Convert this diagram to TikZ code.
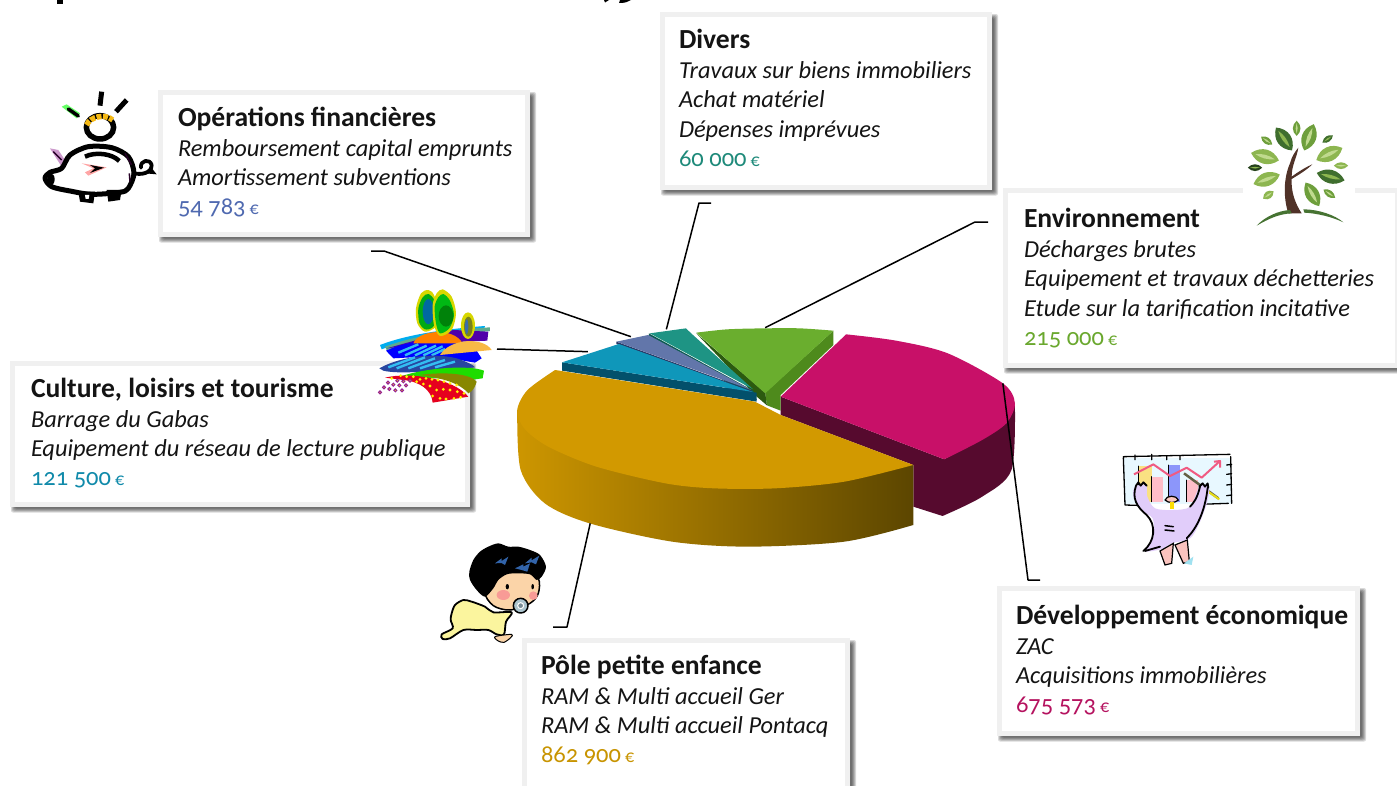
\documentclass[tikz,border=0pt]{standalone}
\usepackage{fontspec}
\setmainfont{Carlito}
\newfontfamily\amtfont[Numbers=OldStyle]{Carlito}
\definecolor{cOp}{HTML}{4F69B0}
\definecolor{cDiv}{HTML}{1E8A7A}
\definecolor{cEnv}{HTML}{6AA82E}
\definecolor{cCul}{HTML}{108AAA}
\definecolor{cPol}{HTML}{C89400}
\definecolor{cDev}{HTML}{B5125F}
\definecolor{band}{HTML}{F0F0F0}
\definecolor{goldA}{RGB}{205,150,0}
\definecolor{goldB}{RGB}{165,120,5}
\definecolor{goldC}{RGB}{92,70,0}
\tikzset{
  cardbox/.style={draw=band,fill=white,line width=5pt,inner sep=0pt,outer sep=0pt,anchor=north west},
  cardtext/.style={inner sep=0pt,outer sep=0pt,anchor=north west,align=left,font=\fontsize{24.4}{29.5}\selectfont,text=black!92},
  leader/.style={draw=black,line width=1.5pt,line join=round},
  shadowlayer/.style={fill=black,opacity=0.15,rounded corners=2pt},
  ink/.style={draw=black,line cap=round,line join=round},
}
\newcommand{\ttl}[1]{\strut{\fontsize{27.6}{29.5}\selectfont\bfseries #1}}
\newcommand{\amount}[2]{{\color{#1}\amtfont\fontsize{24.5}{29.5}\selectfont #2\,{\fontsize{18}{20}\selectfont €}}}
\newcommand{\card}[8]{%
  \foreach \d in {4,3,2,1,0}{%
    \path[shadowlayer] (#2+5-\d,#3+6-\d) rectangle (#4+2+\d,#5+1.5+\d);}
  \node[cardbox,minimum width=#4-#2-5,minimum height=#5-#3-5] (#1) at (#2+2.5,#3+2.5) {};
  \node[cardtext] (#1t) at (#6,#7-20.65) {#8};
}
\newcommand{\leafat}[7]{%
  \fill[#6,shift={(#1,#2)},rotate=#3] ({-#4*0.6},0) .. controls ({-#4*0.25},{-#5*0.85}) and ({#4*0.25},{-#5*0.85}) .. ({#4*0.6},0) .. controls ({#4*0.25},{#5*0.85}) and ({-#4*0.25},{#5*0.85}) .. ({-#4*0.6},0) -- cycle;
  \fill[#7,shift={(#1,#2)},rotate=#3] ({-#4*0.42},0) .. controls ({-#4*0.15},{-#5*0.22}) and ({#4*0.15},{-#5*0.22}) .. ({#4*0.42},0) .. controls ({#4*0.15},{#5*0.22}) and ({-#4*0.15},{#5*0.22}) .. ({-#4*0.42},0) -- cycle;
}
\begin{document}
\begin{tikzpicture}[x=1pt,y=-1pt]
\useasboundingbox (0,0) rectangle (1397,785);
\fill[white] (0,0) rectangle (1397,785);
% clipped title remnants
\fill[black] (57,0) rectangle (62.5,4);
\fill[black] (604,0) -- (609,0) -- (605,2.5) -- cycle;
\fill[black] (619,3) .. controls (625,3) and (628,2) .. (631,0) -- (620,0) -- cycle;

% cards
\card{op}{158}{90}{530}{237}{178}{126}{\ttl{Opérations financières}\\[0.5pt]\itshape Remboursement capital emprunts\\\itshape Amortissement subventions\\[-0.5pt]\amount{cOp}{54 783}}
\card{div}{660}{12}{992}{190}{679}{48}{\ttl{Divers}\\[0.5pt]\itshape Travaux sur biens immobiliers\\\itshape Achat matériel\\\itshape Dépenses imprévues\\[-0.5pt]\amount{cDiv}{60 000}}
\card{env}{1003}{188}{1400}{368}{1024}{227}{\ttl{Environnement}\\[0.5pt]\itshape Décharges brutes\\\itshape Equipement et travaux déchetteries\\\itshape Etude sur la tarification incitative\\[-0.5pt]\amount{cEnv}{215 000}}
\card{cul}{10}{361}{470}{507}{31}{397}{\ttl{Culture, loisirs et tourisme}\\[0.5pt]\itshape Barrage du Gabas\\\itshape Equipement du réseau de lecture publique\\[-0.5pt]\amount{cCul}{121 500}}
\card{pol}{522}{638}{850}{792}{541}{674}{\ttl{Pôle petite enfance}\\[0.5pt]\itshape RAM  \& Multi accueil Ger\\\itshape RAM  \& Multi accueil Pontacq\\[-0.5pt]\amount{cPol}{862 900}}
\card{dev}{997}{586}{1360}{736}{1016}{624}{\ttl{Développement économique}\\[0.5pt]\itshape ZAC\\\itshape Acquisitions immobilières\\[-0.5pt]\amount{cDev}{675 573}}

% pie (coordinates of a 2.904 x 3 view)
\begin{scope}[shift={(500,300)},xscale=0.3444,yscale=0.3333]
  % magenta
  \fill[fill={rgb,255:red,86;green,10;blue,46}] (815,290) -- (1290,478) -- (1470,370) -- (1495,310)
     -- plot[smooth] coordinates {(1495,310)(1485,510)(1400,590)(1285,648)} -- (1200,620) -- (1200,495) -- (815,345) -- cycle;
  \fill[fill={rgb,255:red,200;green,16;blue,104}] (1005,103) -- (815,290) -- (1290,478)
     -- plot[smooth] coordinates {(1290,478)(1400,420)(1470,370)(1495,310)(1460,250)(1300,160)(1150,122)(1005,103)} -- cycle;
  % green
  \fill[fill={rgb,255:red,78;green,138;blue,28}] (770,278) -- (968,92) -- (968,135) -- (815,285) -- (815,332) -- (775,316) -- cycle;
  \fill[fill={rgb,255:red,44;green,90;blue,16}] (570,100) -- (770,278) -- (775,316) -- (740,285) -- cycle;
  \fill[fill={rgb,255:red,106;green,174;blue,46}] (570,98) -- (770,280) -- (968,92) -- plot[smooth] coordinates {(968,92)(870,85)(770,85)(660,88)(570,98)} -- cycle;
  % teal
  \fill[fill={rgb,255:red,13;green,90;blue,80}] (432,100) -- (735,272) -- (745,300) -- (432,108) -- cycle;
  \fill[fill={rgb,255:red,30;green,148;blue,132}] (435,100) -- (540,85) -- (555,100) -- (735,268) -- cycle;
  % blue-grey
  \fill[fill={rgb,255:red,40;green,55;blue,100}] (338,125) -- (730,272) -- (745,300) -- (338,132) -- cycle;
  \fill[fill={rgb,255:red,98;green,118;blue,170}] (338,125) -- (430,105) -- (730,270) -- cycle;
  % blue
  \fill[fill={rgb,255:red,3;green,80;blue,107}] (180,187) -- (180,212) -- (745,305) -- (745,278) -- cycle;
  \fill[fill={rgb,255:red,15;green,151;blue,186}] (180,187) -- (345,132) -- (735,276) -- cycle;
  % gold
  \shade[left color=goldA,middle color=goldB,right color=goldC]
    (50,330) -- plot[smooth] coordinates {(50,340)(60,510)(130,610)(260,670)(500,725)(720,740)(1000,725)(1200,675)} -- (1200,495) -- cycle;
  \fill[fill={rgb,255:red,210;green,153;blue,0}] (160,210) -- (740,305) -- (815,345) -- (1200,495)
     -- plot[smooth] coordinates {(1200,495)(1000,545)(800,565)(620,565)(480,550)(280,500)(140,440)(70,385)(50,330)(80,270)(160,210)} -- cycle;
  % leader ends on the pie
  \coordinate (pOp) at (380,110);
  \coordinate (pDiv) at (483,88);
  \coordinate (pEnv) at (770,83);
  \coordinate (pCul) at (255,155);
  \coordinate (pDev) at (1460,250);
  \coordinate (pPol) at (262,670);
\end{scope}

% leaders
\coordinate (eOp) at (384,251); \coordinate (fOp) at (371,251);
\coordinate (eDiv) at (699,203); \coordinate (fDiv) at (711,203);
\coordinate (eEnv) at (975,222); \coordinate (fEnv) at (988,222);
\coordinate (fCul) at (497,349);
\coordinate (eDev) at (1028,580); \coordinate (fDev) at (1040,580);
\coordinate (ePol) at (567,627); \coordinate (fPol) at (553,627);
\draw[leader] (fOp) -- (eOp) -- (pOp);
\draw[leader] (fDiv) -- (eDiv) -- (pDiv);
\draw[leader] (fEnv) -- (eEnv) -- (pEnv);
\draw[leader] (fCul) -- (pCul);
\draw[leader] (fDev) -- (eDev) -- (pDev);
\draw[leader] (fPol) -- (ePol) -- (pPol);

% piggy bank
\begin{scope}[shift={(30,85)},scale=0.3333]
  \draw[ink,line width=5pt,line cap=butt] (215,20) -- (210,62);
  \draw[ink,line width=5pt,line cap=butt] (290,45) -- (258,80);
  \fill[green!60!white] (95,65) -- (110,58) -- (150,85) -- (140,100) -- cycle;
  \draw[ink,line width=3.5pt] (115,72) -- (145,93);
  \draw[ink,line width=5.5pt] (210,127) ellipse (41 and 35);
  \draw[line width=5.5pt,draw={rgb,255:red,245;green,185;blue,20},dash pattern=on 5pt off 1.5pt] (170,120) .. controls (180,95) and (225,85) .. (248,105);
  \fill[violet!40!white] (60,190) -- (85,195) -- (105,225) -- (95,245) -- cycle;
  \fill[violet!40!white] (280,200) -- (312,235) -- (305,300) -- (290,295) -- cycle;
  \draw[ink,line width=5pt,fill=white] plot[smooth cycle] coordinates {(45,280)(60,262)(95,250)(120,210)(175,185)(245,188)(295,215)(312,265)(295,310)(270,322)(185,328)(120,318)(65,305)};
  \fill[black] (145,320) -- (195,320) -- (190,355) -- (150,350) -- cycle;
  \fill[black] (230,315) -- (275,315) -- (270,345) -- (235,350) -- cycle;
  \fill[white] (165,330) -- (178,330) -- (176,342) -- (167,342) -- cycle;
  \draw[ink,line width=3.5pt,fill=white] (63,283) ellipse (6 and 12);
  \draw[ink,line width=4.5pt,line cap=butt] (165,215) .. controls (195,200) and (245,205) .. (268,228);
  \draw[ink,line width=3.8pt] (310,265) .. controls (335,270) and (365,265) .. (365,240) .. controls (360,220) and (330,225) .. (333,248);
  \fill[black] (345,265) -- (380,268) -- (362,245) -- cycle;
  \fill[red!35!white] (155,235) -- (230,247) -- (175,272) -- (165,262) -- (190,250) -- cycle;
  \fill[black] (180,240) -- (222,248) -- (180,264) -- (195,250) -- cycle;
  \draw[black!70!violet,line width=1.5pt] (70,200) -- (95,225) (285,205) -- (305,240) (298,265) -- (300,290);
\end{scope}

% landscape
\begin{scope}[shift={(360,280)},scale=0.3333]
  \fill[cyan] (60,195) .. controls (150,160) and (280,145) .. (375,138) -- (372,148) .. controls (260,155) and (150,175) .. (65,208) -- cycle;
  \fill[fill={rgb,255:red,95;green,170;blue,140}] (75,200) .. controls (170,165) and (290,148) .. (390,142) -- (390,153) -- (280,165) -- (80,210) -- cycle;
  \fill[fill={rgb,255:red,80;green,0;blue,170}] (80,205) -- (280,150) -- (385,155) -- (382,182) -- (200,190) -- cycle;
  \fill[blue] (78,212) .. controls (170,170) and (280,175) .. (350,212) -- (365,235) -- (345,248) -- (230,228) -- (100,235) -- cycle;
  \draw[cyan!80!white,line width=2.4pt,line cap=butt] (115,218) -- (175,193) (135,226) -- (200,197) (165,226) -- (228,197) (190,226) -- (248,199) (215,226) -- (255,207);
  \fill[orange] (160,190) .. controls (175,150) and (280,140) .. (308,190) -- cycle;
  % trees
  \fill[fill={rgb,255:red,215;green,215;blue,0}] plot[smooth cycle] coordinates {(205,30)(222,45)(238,100)(228,140)(195,155)(172,130)(168,85)(183,40)};
  \fill[fill={rgb,255:red,0;green,170;blue,20}] plot[smooth cycle] coordinates {(205,42)(224,62)(232,110)(218,142)(195,148)(178,128)(175,85)(188,52)};
  \fill[fill={rgb,255:red,0;green,105;blue,160}] (205,95) ellipse (17 and 38);
  \fill[fill={rgb,255:red,215;green,215;blue,0}] plot[smooth cycle] coordinates {(248,28)(275,50)(288,100)(275,150)(240,168)(222,135)(218,75)(230,40)};
  \fill[fill={rgb,255:red,0;green,185;blue,20}] plot[smooth cycle] coordinates {(250,42)(270,62)(282,105)(268,145)(240,160)(228,130)(224,80)(235,52)};
  \fill[fill={rgb,255:red,0;green,130;blue,10}] (258,108) ellipse (22 and 32);
  \fill[fill={rgb,255:red,215;green,215;blue,0}] (324,137) ellipse (21 and 40);
  \fill[fill={rgb,255:red,120;green,130;blue,30}] (325,140) ellipse (13 and 30);
  \fill[fill={rgb,255:red,60;green,110;blue,170}] (320,140) ellipse (5 and 22);
  \fill[fill={rgb,255:red,248;green,185;blue,70}] (240,225) .. controls (270,175) and (370,170) .. (395,210) -- cycle;
  \fill[fill={rgb,255:red,40;green,70;blue,160}] (58,265) .. controls (110,235) and (210,215) .. (290,235) .. controls (320,245) and (340,255) .. (345,262) .. controls (250,270) and (120,285) .. (70,272) -- cycle;
  \draw[cyan!80!white,line width=2.4pt,line cap=butt] (85,262) -- (165,232) (110,265) -- (195,232) (145,265) -- (225,235) (180,265) -- (255,240) (225,262) -- (285,245);
  \fill[fill={rgb,255:red,30;green,220;blue,0}] (120,290) .. controls (200,262) and (330,255) .. (372,272) -- (368,295) -- (330,300) -- cycle;
  \fill[fill={rgb,255:red,135;green,135;blue,0}] (180,285) .. controls (250,275) and (330,280) .. (350,305) .. controls (345,325) and (335,335) .. (325,340) .. controls (300,310) and (250,295) .. (180,285) -- cycle;
  \fill[fill={rgb,255:red,230;green,0;blue,30}] (75,293) .. controls (150,275) and (280,295) .. (325,350) -- (218,368) .. controls (215,330) and (180,305) .. (130,300) -- cycle;
  \foreach \px/\py in {95/295,122/287,140/290,160/290,180/298,198/295,216/298,234/300,252/305,270/310,290/315,150/303,170/305,190/312,210/318,230/330,250/328,270/330,292/335,312/340,218/348,240/355,258/357,282/355,302/352}
    \fill[yellow] (\px,\py) circle (4.6);
  \foreach \px/\py in {60/337,72/322,88/327,106/331,126/331,84/308,100/314,118/316,138/316,112/302,130/304,150/302}
    \draw[draw={rgb,255:red,150;green,30;blue,150},line width=1pt,fill=yellow] (\px,\py) circle (4.5);
\end{scope}

% baby
\begin{scope}[shift={(430,535)},scale=0.3333]
  \definecolor{babyy}{HTML}{FBF59E}
  \definecolor{skin}{HTML}{FBD4A8}
  \filldraw[fill=babyy,ink,line width=1.8pt] plot[smooth cycle] coordinates {(65,235)(75,210)(100,195)(125,200)(165,215)(190,232)(245,232)(228,260)(222,298)(200,298)(175,285)(140,285)(100,285)(60,310)(38,312)(35,298)(68,280)(62,255)};
  \filldraw[fill=skin,ink,line width=1pt] plot[smooth cycle] coordinates {(195,305)(245,298)(242,308)(222,322)(205,318)};
  \filldraw[fill=skin,ink,line width=1.5pt] plot[smooth cycle] coordinates {(165,170)(210,115)(280,100)(325,130)(325,175)(300,205)(240,225)(190,212)};
  \fill[black] plot[smooth cycle] coordinates {(118,110)(130,75)(150,50)(175,35)(205,25)(235,35)(265,35)(300,45)(330,60)(348,95)(335,125)(320,135)(300,118)(260,115)(230,118)(205,135)(190,160)(165,185)(140,165)(120,135)};
  \fill[fill={rgb,255:red,50;green,100;blue,170}] (195,85) -- (215,70) -- (215,78) -- (235,65) -- (225,90) -- (215,84) -- cycle;
  \fill[fill={rgb,255:red,50;green,100;blue,170}] (285,85) -- (305,68) -- (305,76) -- (328,62) -- (318,88) -- (305,82) -- cycle;
  \fill[fill={rgb,255:red,50;green,100;blue,170}] (255,100) -- (280,88) -- (280,95) -- (300,85) -- (292,110) -- (275,105) -- cycle;
  \fill[fill={rgb,255:red,248;green,155;blue,150}] (220,180) ellipse (20 and 15);
  \fill[fill={rgb,255:red,248;green,155;blue,150}] (310,182) ellipse (13 and 13);
  \fill[black] (232,155) ellipse (5 and 8);
  \fill[black] (308,155) ellipse (4 and 8);
  \filldraw[fill={rgb,255:red,170;green,195;blue,205},ink,line width=1.5pt] (272,212) circle (22);
  \filldraw[fill={rgb,255:red,120;green,140;blue,150},draw=white,line width=1pt] (272,212) circle (9);
\end{scope}

% growth chart character
\begin{scope}[shift={(1110,445)},scale=0.3333]
  \fill[fill={rgb,255:red,232;green,248;blue,255}] (42,38) rectangle (362,178);
  \draw[ink,line width=1.3pt] (40,38) -- (45,180) (45,180) -- (110,182) (270,178) -- (355,175) (362,35) -- (365,175) (40,35) -- (360,28);
  \draw[ink,line width=1.3pt] (75,30) -- (75,44) (125,28) -- (125,44) (170,32) -- (170,44) (210,32) -- (210,44)
    (350,60) -- (365,58) (350,88) -- (365,86) (350,120) -- (365,118) (350,152) -- (365,150);
  \fill[fill={rgb,255:red,250;green,225;blue,130}] (85,63) rectangle (125,170);
  \fill[fill={rgb,255:red,255;green,190;blue,200}] (125,95) rectangle (160,170);
  \fill[fill={rgb,255:red,140;green,150;blue,250}] (175,60) rectangle (210,170);
  \fill[fill={rgb,255:red,255;green,190;blue,200}] (230,105) rectangle (265,170);
  \draw[ink,line width=1pt] (85,63) -- (85,170) (125,95) -- (125,170) (175,60) -- (175,170) (230,105) -- (230,170);
  \draw[draw={rgb,255:red,240;green,90;blue,130},line width=2pt,line join=round] (72,88) -- (130,58) -- (180,93) -- (230,68) -- (275,98) -- (330,48) (312,50) -- (330,48) -- (330,68);
  \draw[black!70!yellow,line width=2.5pt] (222,85) -- (325,160);
  \draw[yellow!90!black,line width=2pt] (280,130) -- (328,163);
  \filldraw[fill={rgb,255:red,225;green,205;blue,250},draw=none] plot[smooth cycle] coordinates {(75,125)(108,120)(112,155)(135,190)(190,195)(240,185)(268,125)(297,125)(292,170)(268,235)(240,280)(185,295)(155,312)(105,318)(130,275)(128,220)(92,195)(70,155)};
  \draw[ink,line width=1.8pt] (78,122) .. controls (65,160) and (80,185) .. (110,210) .. controls (140,240) and (135,290) .. (100,318) (105,318) -- (150,305) (270,125) .. controls (262,160) and (250,175) .. (240,185) (293,128) .. controls (285,200) and (260,250) .. (230,280) (78,122) -- (85,112) -- (92,122) -- (100,112) -- (110,122) (268,125) -- (278,115) -- (285,125) -- (293,115) -- (295,128);
  \filldraw[fill={rgb,255:red,250;green,200;blue,190},ink,line width=1.2pt] (165,165) .. controls (170,150) and (200,150) .. (205,165) .. controls (195,175) and (175,175) .. (165,165) -- cycle;
  \fill[yellow!80!orange] (180,172) -- (192,172) -- (192,192) -- (180,192) -- cycle;
  \filldraw[fill={rgb,255:red,250;green,195;blue,190},draw=black,line width=1.2pt] (150,318) -- (190,295) -- (185,355) -- (165,360) -- cycle;
  \filldraw[fill={rgb,255:red,250;green,195;blue,190},draw=black,line width=1.2pt] (195,300) -- (232,285) -- (238,350) -- (220,355) -- cycle;
  \fill[fill={rgb,255:red,160;green,225;blue,240}] (222,355) -- (250,335) -- (245,360) -- cycle;
  \draw[ink,line width=1.5pt] (165,242) -- (190,245) (165,255) -- (192,258);
\end{scope}

% tree
\begin{scope}[shift={(1235,115)},scale=0.3333]
  \fill[white] (25,5) rectangle (360,345);
  \definecolor{lfa}{HTML}{6E9F3C}
  \definecolor{lfb}{HTML}{3F6E2E}
  \definecolor{lfc}{HTML}{8DB650}
  \definecolor{lfs}{HTML}{C0DA8E}
  \leafat{185}{40}{90}{38}{18}{lfa}{lfs}
  \leafat{147}{72}{-55}{70}{34}{lfb}{lfc}
  \leafat{222}{67}{70}{70}{34}{lfa}{lfs}
  \leafat{95}{77}{-35}{34}{16}{lfa}{lfs}
  \leafat{278}{72}{35}{32}{14}{lfb}{lfc}
  \leafat{90}{125}{-15}{72}{34}{lfc}{lfs}
  \leafat{283}{117}{25}{72}{34}{lfc}{lfs}
  \leafat{60}{158}{0}{36}{16}{black!40!lfb}{lfc}
  \leafat{318}{152}{0}{36}{16}{lfc}{lfs}
  \leafat{95}{193}{20}{70}{32}{lfc}{lfs}
  \leafat{287}{185}{-15}{72}{32}{lfb}{lfc}
  \leafat{100}{240}{35}{32}{18}{lfc}{lfs}
  \leafat{232}{238}{-60}{68}{32}{lfa}{lfs}
  \leafat{283}{236}{-35}{36}{16}{lfa}{lfs}
  \fill[fill={rgb,255:red,80;green,50;blue,40}] (160,295) .. controls (145,250) and (145,190) .. (165,145) .. controls (170,125) and (180,110) .. (190,98) .. controls (185,130) and (170,150) .. (170,185) .. controls (190,170) and (215,155) .. (232,148) .. controls (215,165) and (190,180) .. (170,192) .. controls (168,230) and (180,265) .. (200,295) -- cycle;
  \fill[fill={rgb,255:red,70;green,115;blue,50}] (65,332) .. controls (90,305) and (130,287) .. (165,285) -- (170,295) .. controls (130,297) and (100,312) .. (65,332) -- cycle;
  \fill[fill={rgb,255:red,70;green,115;blue,50}] (205,283) .. controls (250,283) and (300,300) .. (325,322) .. controls (290,305) and (245,295) .. (208,293) -- cycle;
\end{scope}
\end{tikzpicture}
\end{document}
